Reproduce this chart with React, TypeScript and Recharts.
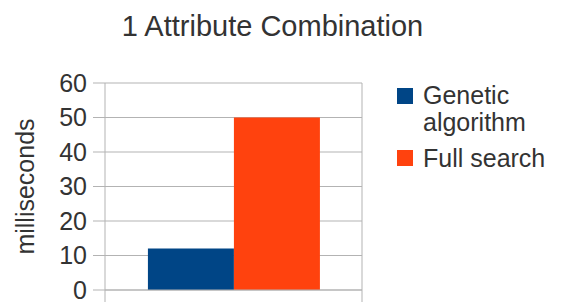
import React from 'react';
import { BarChart, Bar, XAxis, YAxis, CartesianGrid, Customized, usePlotArea } from 'recharts';

const categories = ['1 Attribute Combination'];
const geneticValues = [12];
const fullSearchValues = [50];
const yTicks = [0, 10, 20, 30, 40, 50, 60];
const seriesNames = ['Genetic algorithm', 'Full search'];
const seriesColors = ['#004586', '#ff420e'];

const data = categories.map((c, i) => ({
  name: c,
  genetic: geneticValues[i],
  full: fullSearchValues[i],
}));

const FONT = '"Liberation Sans", Arial, sans-serif';
const TEXT = '#333333';
const GRID = '#b3b3b3';
const TICK = 12;

function Frame() {
  const area = usePlotArea();
  if (!area) return null;
  const { x, y, width, height } = area;
  const right = x + width;
  const bottom = y + height;
  return (
    <g>
      <line x1={right} y1={y} x2={right} y2={bottom + TICK} stroke={GRID} />
      <line x1={x} y1={bottom} x2={x} y2={bottom + TICK} stroke={GRID} />
    </g>
  );
}

export default function App() {
  return (
    <div style={{ position: 'absolute', left: 0, top: 0, width: 561, height: 302, background: '#fff', fontFamily: FONT }}>
      <div
        style={{
          position: 'absolute',
          left: 0,
          width: 545,
          top: 8,
          textAlign: 'center',
          fontSize: 29,
          lineHeight: '36px',
          color: TEXT,
        }}
      >
        {categories[0]}
      </div>
      <BarChart
        width={561}
        height={302}
        data={data}
        margin={{ top: 83, right: 199, bottom: 0, left: 0 }}
        barCategoryGap="16.7%"
        barGap={0}
      >
        <CartesianGrid stroke={GRID} vertical={false} horizontal={true} />
        <XAxis dataKey="name" height={TICK} axisLine={{ stroke: GRID }} tickLine={false} tick={false} />
        <YAxis
          domain={[0, 60]}
          ticks={yTicks}
          width={105}
          tickSize={TICK}
          tickMargin={6}
          axisLine={{ stroke: GRID }}
          tickLine={{ stroke: GRID }}
          tick={{ fill: TEXT, fontSize: 25, fontFamily: FONT }}
          interval={0}
          label={(props: any) => {
            const vb = props.viewBox || { x: 0, y: 83, width: 105, height: 207 };
            const cx = vb.x + 25;
            const cy = vb.y + vb.height / 2;
            return (
              <text
                x={cx}
                y={cy}
                transform={`rotate(-90, ${cx}, ${cy})`}
                textAnchor="middle"
                dominantBaseline="central"
                fill={TEXT}
                fontSize={25}
                fontFamily={FONT}
              >
                milliseconds
              </text>
            );
          }}
        />
        <Bar dataKey="genetic" name={seriesNames[0]} fill={seriesColors[0]} isAnimationActive={false} />
        <Bar dataKey="full" name={seriesNames[1]} fill={seriesColors[1]} isAnimationActive={false} />
        <Customized component={Frame} />
      </BarChart>
      <div style={{ position: 'absolute', left: 397, top: 82, width: 164 }}>
        {seriesNames.map((n, i) => (
          <div key={n} style={{ display: 'flex', alignItems: 'flex-start', marginBottom: 8.5 }}>
            <div
              style={{
                width: 16,
                height: 16,
                background: seriesColors[i],
                marginTop: 5.5,
                marginRight: 10,
                flex: '0 0 auto',
              }}
            />
            <div style={{ fontSize: 25, lineHeight: '27px', color: TEXT, width: 136 }}>{n}</div>
          </div>
        ))}
      </div>
    </div>
  );
}
